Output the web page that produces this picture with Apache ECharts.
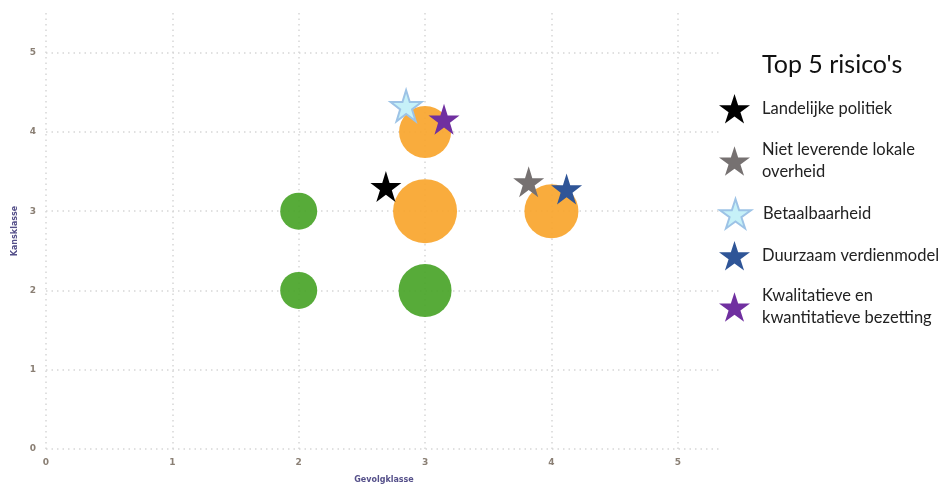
<!DOCTYPE html>
<html>
<head>
<meta charset="utf-8">
<script src="https://cdn.jsdelivr.net/npm/echarts@6/dist/echarts.min.js"></script>
<style>
  html, body { margin: 0; padding: 0; background: #fff; }
  #chart-container { width: 944px; height: 484px; }
</style>
</head>
<body>
<div id="chart-container"></div>
<script>
// bubbles: gevolgklasse (x), kansklasse (y), bubble diameter
var bubbleX = [2, 2, 3, 3, 3, 4];
var bubbleY = [3, 2, 2, 3, 4, 3];
var bubbleSize = [37, 37, 53, 64, 52, 54];
var bubbleGroup = ['groen', 'groen', 'groen', 'oranje', 'oranje', 'oranje'];

// top 5 risks (stars)
var riskNames = [
  'Landelijke politiek',
  'Niet leverende lokale\noverheid',
  'Betaalbaarheid',
  'Duurzaam verdienmodel',
  'Kwalitatieve en\nkwantitatieve bezetting'
];
var riskX = [2.69, 3.82, 2.85, 4.12, 3.15];
var riskY = [3.31, 3.37, 4.33, 3.28, 4.16];

var axisTicks = [0, 1, 2, 3, 4, 5];

var groupColors = { groen: '#4ea72e', oranje: '#f9a833' };
var riskFill = ['#000000', '#767171', '#c6f1f8', '#2f5597', '#7030a0'];
var riskBorder = ['#000000', '#767171', '#9dc3e6', '#2f5597', '#7030a0'];
var legendTops = [89, 134, 193, 236, 280];

var starPath = 'path://M50,0 L61.2,34.5 L97.6,34.5 L68.2,55.9 L79.4,90.5 L50,69.1 L20.6,90.5 L31.8,55.9 L2.4,34.5 L38.8,34.5 Z';

var dom = document.getElementById('chart-container');
var myChart = echarts.init(dom, null, { renderer: 'canvas' });

var series = [];
['groen', 'oranje'].forEach(function (g) {
  var pts = [];
  for (var i = 0; i < bubbleX.length; i++) {
    if (bubbleGroup[i] === g) pts.push([bubbleX[i], bubbleY[i], bubbleSize[i]]);
  }
  series.push({
    name: g,
    type: 'scatter',
    symbol: 'circle',
    symbolSize: function (val) { return val[2]; },
    itemStyle: { color: groupColors[g], opacity: 0.95 },
    data: pts,
    z: 2
  });
});
riskNames.forEach(function (name, i) {
  series.push({
    name: name,
    type: 'scatter',
    symbol: starPath,
    symbolSize: 31,
    itemStyle: { color: riskFill[i], borderColor: riskBorder[i], borderWidth: i === 2 ? 2 : 0, opacity: 1 },
    data: [[riskX[i], riskY[i]]],
    z: 3
  });
});

var legends = riskNames.map(function (name, i) {
  return {
    data: [{ name: name, icon: starPath }],
    orient: 'vertical',
    left: 714,
    top: legendTops[i],
    itemWidth: 31,
    itemHeight: 31,
    selectedMode: false,
    itemStyle: { opacity: 1 },
    textStyle: {
      fontFamily: 'Lato',
      fontSize: 16.5,
      color: '#222',
      lineHeight: 22,
      padding: [0, 0, 0, 7]
    }
  };
});

var axisLabelStyle = { fontSize: 9, fontWeight: 'bold', color: '#8a7f74', fontFamily: 'DejaVu Sans' };
var splitStyle = { show: true, showMaxLine: false, lineStyle: { color: '#d6d6d6', type: [1.5, 4], width: 1.5 } };

var option = {
  animation: false,
  title: {
    text: "Top 5 risico's",
    left: 757,
    top: 47,
    textStyle: { fontFamily: 'Lato', fontSize: 25, fontWeight: 'normal', color: '#111' }
  },
  legend: legends,
  grid: { left: 46, right: 222, top: 13, bottom: 35, outerBoundsMode: 'none', containLabel: false },
  xAxis: {
    type: 'value',
    min: 0,
    max: 5.35,
    interval: 1,
    name: 'Gevolgklasse',
    nameLocation: 'middle',
    nameGap: 27,
    nameTextStyle: { fontSize: 8, fontWeight: 'bold', color: '#55508a', fontFamily: 'DejaVu Sans' },
    axisLine: { show: false },
    axisTick: { show: false },
    axisLabel: {
      margin: 9,
      ...axisLabelStyle,
      formatter: function (v) { return axisTicks.indexOf(v) >= 0 ? String(v) : ''; }
    },
    splitLine: splitStyle
  },
  yAxis: {
    type: 'value',
    min: 0,
    max: 5.5,
    interval: 1,
    name: 'Kansklasse',
    nameLocation: 'middle',
    nameGap: 25,
    nameTextStyle: { fontSize: 8, fontWeight: 'bold', color: '#55508a', fontFamily: 'DejaVu Sans' },
    axisLine: { show: false },
    axisTick: { show: false },
    axisLabel: {
      margin: 10,
      ...axisLabelStyle,
      formatter: function (v) { return axisTicks.indexOf(v) >= 0 ? String(v) : ''; }
    },
    splitLine: splitStyle
  },
  series: series
};

myChart.setOption(option);
</script>
</body>
</html>
